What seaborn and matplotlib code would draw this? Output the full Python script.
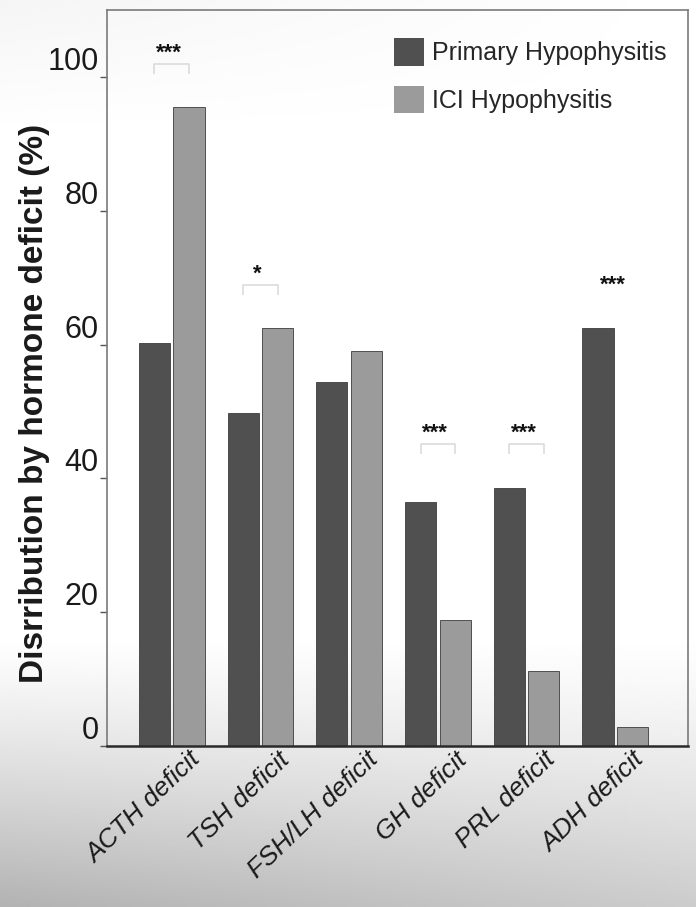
import numpy as np
import pandas as pd
import matplotlib
matplotlib.use("Agg")
import matplotlib.pyplot as plt
import matplotlib.transforms as mtransforms
from matplotlib.patches import Patch
import seaborn as sns

# ---- data -------------------------------------------------------------
categories = ["ACTH deficit", "TSH deficit", "FSH/LH deficit",
              "GH deficit", "PRL deficit", "ADH deficit"]
primary = [60.2, 49.8, 54.4, 36.4, 38.6, 62.5]
ici = [95.5, 62.4, 59.1, 18.8, 11.2, 2.8]
groups = ["Primary Hypophysitis", "ICI Hypophysitis"]
significance = ["***", "*", "", "***", "***", "***"]
bracket_y = [101.9, 68.9, None, 45.1, 45.1, None]
yticks = [0, 20, 40, 60, 80, 100]

df = pd.DataFrame({
    "category": categories * 2,
    "group": [groups[0]] * len(categories) + [groups[1]] * len(categories),
    "value": primary + ici,
})

# ---- style ------------------------------------------------------------
sns.set_theme(style="white")
plt.rcParams["font.family"] = ["Liberation Sans", "DejaVu Sans"]

dark = "#505050"
light = "#9b9b9b"

fig = plt.figure(figsize=(6.96, 9.07), dpi=100)

# soft grey shading toward the bottom of the sheet
bg = fig.add_axes([0, 0, 1, 1], zorder=-5)
yy = np.linspace(0, 1, 400)[:, None]
xx = np.linspace(0, 1, 300)[None, :]
shade = np.clip((0.30 - yy) / 0.30, 0, 1) ** 1.2 * (0.30 - 0.10 * xx)
shade = shade + 0.04 * np.clip((yy - 0.85) / 0.15, 0, 1) * (1 - xx)
bg.imshow(1 - shade, cmap="gray", vmin=0, vmax=1, aspect="auto",
          origin="lower", extent=[0, 1, 0, 1])
bg.set_axis_off()

ax = fig.add_axes([107 / 696, 1 - 746 / 907, 581 / 696, 736 / 907])
ax.set_facecolor("none")

sns.barplot(data=df, x="category", y="value", hue="group",
            hue_order=groups, order=categories,
            palette=[dark, light], width=0.78, gap=0.1,
            edgecolor="#3c3c3c", linewidth=0.6, errorbar=None,
            legend=False, ax=ax)

ax.set_xlim(-0.73, 5.82)
ax.set_ylim(0, 110)

# significance brackets and stars
half = 0.195
for i, (sig, ybr) in enumerate(zip(significance, bracket_y)):
    if not sig:
        continue
    if ybr is not None:
        ax.plot([i - half, i - half, i + half, i + half],
                [ybr - 1.5, ybr, ybr, ybr - 1.5],
                color="#d8d8d8", lw=1.1, solid_capstyle="butt")
        ystar = ybr + 1.6
    else:
        ystar = max(primary[i], ici[i]) + 6.3
    ax.text(i - 0.03, ystar, sig, ha="center", va="center",
            fontsize=16, fontweight="bold", color="#111111")

# axes frame
for side in ["left", "top", "right"]:
    ax.spines[side].set_color("#7a7a7a")
    ax.spines[side].set_linewidth(1.2)
ax.spines["bottom"].set_color("#2a2a2a")
ax.spines["bottom"].set_linewidth(1.8)

ax.set_yticks(yticks)
ax.set_yticklabels([str(t) for t in yticks], fontsize=22, color="#1a1a1a",
                   va="bottom")
ax.tick_params(axis="y", direction="out", length=5, width=1,
               color="#555555", pad=1, left=True)
ax.tick_params(axis="x", length=0, pad=1)

ax.set_xticks(range(len(categories)))
ax.set_xticklabels(categories, rotation=44, ha="right", rotation_mode="anchor",
                   fontsize=19, fontstyle="italic", color="#1a1a1a")
offset = mtransforms.ScaledTranslation(0.17, 0.0, fig.dpi_scale_trans)
for lab in ax.get_xticklabels():
    lab.set_transform(lab.get_transform() + offset)

ax.set_xlabel("")
ax.set_ylabel("Disrribution by hormone deficit (%)", fontsize=24,
              fontweight="bold", color="#1a1a1a")
ax.yaxis.set_label_coords(-0.098, 0.465)

handles = [Patch(facecolor=dark, edgecolor="none"),
           Patch(facecolor=light, edgecolor="none")]
ax.legend(handles, groups, loc="upper left", bbox_to_anchor=(0.477, 0.975),
          frameon=False, fontsize=18, handlelength=1.2, handleheight=1.3,
          handletextpad=0.32, labelspacing=0.8, borderaxespad=0)

fig.savefig("out.png", dpi=100)
